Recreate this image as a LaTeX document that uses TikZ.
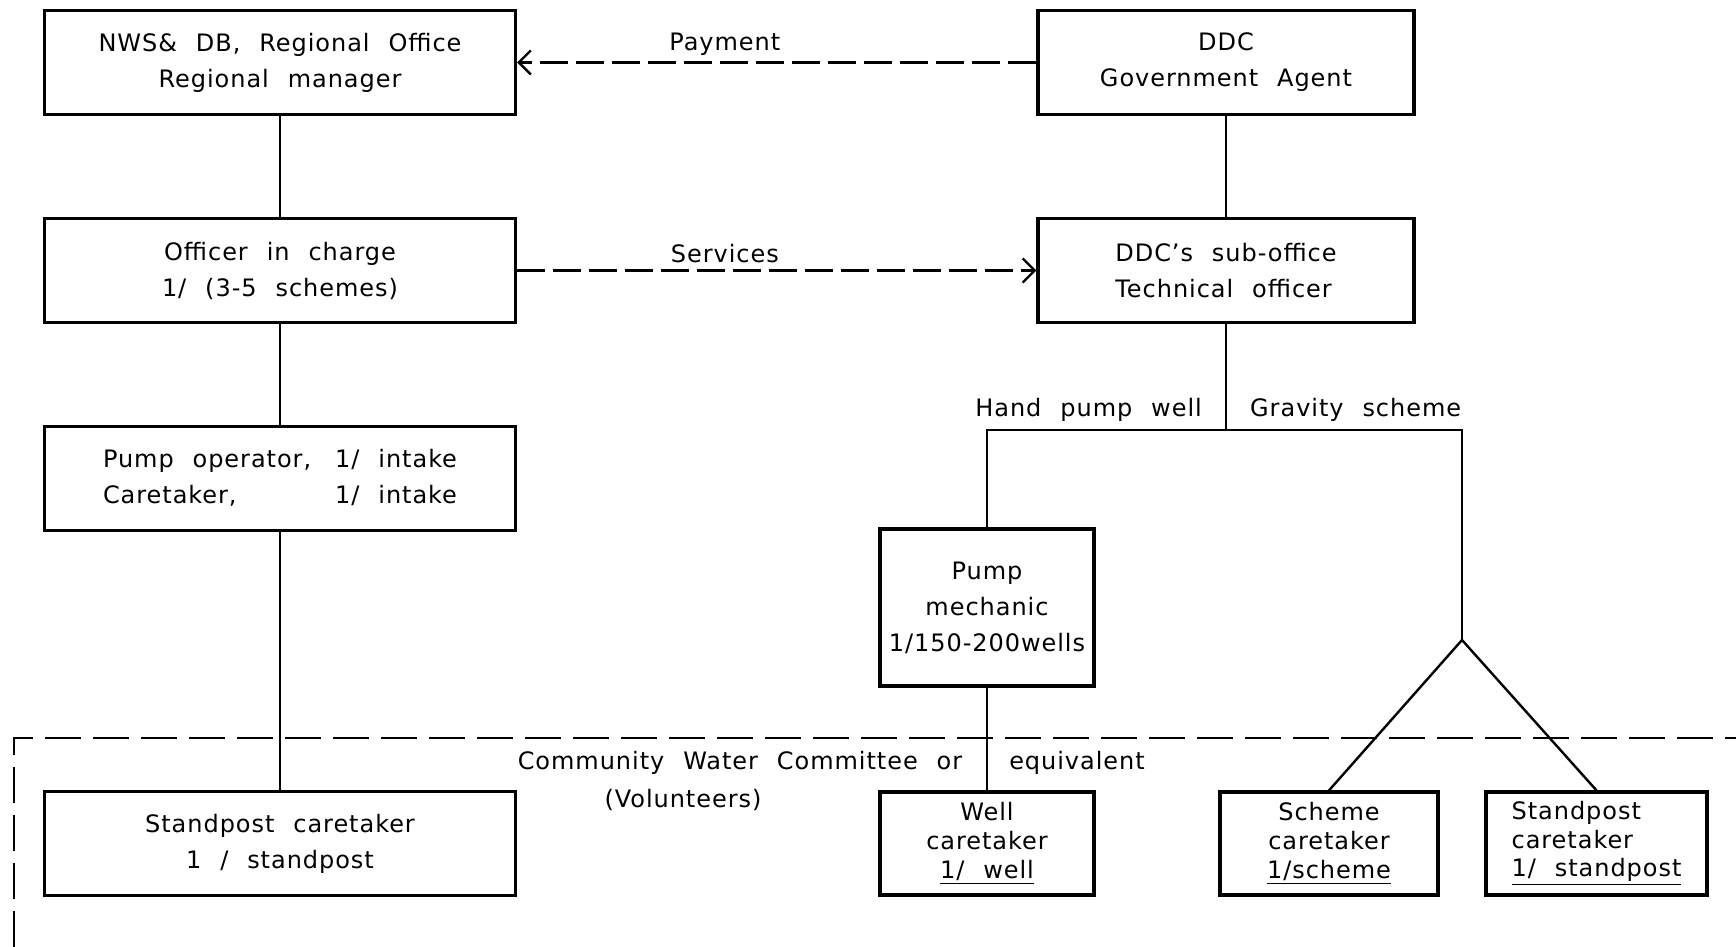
\documentclass[tikz,border=0pt]{standalone}
\usepackage{fontspec}
\setmainfont{DejaVu Sans}[WordSpace=2.2,LetterSpace=4]
\usetikzlibrary{arrows.meta}

\begin{document}
\begin{tikzpicture}[x=0.5pt,y=-0.5pt,line width=1.2pt,
   every node/.style={font=\fontsize{12}{18}\selectfont},
   box/.style={draw,line width=1.6pt,inner sep=2pt,align=center},
   bigbox/.style={box,minimum width=235.5pt,minimum height=52pt},
   midbox/.style={box,minimum width=188pt,minimum height=52pt},
   smallbox/.style={box,minimum height=51.5pt,font=\fontsize{12}{14.3}\selectfont},
   flow/.style={dash pattern=on 14pt off 4pt,-{Straight Barb[length=6pt,width=12pt]}},
   lbl/.style={inner sep=1pt}]
\useasboundingbox (0,0) rectangle (1736,947);
\node[bigbox] (nws) at (280,62.5) {NWS\& DB, Regional Office\\Regional manager};
\node[midbox] (ddc) at (1226,62.5) {DDC\\Government Agent};
\node[bigbox] (oic) at (280,270.5) {Officer in charge\\1/ (3-5 schemes)};
\node[midbox,align=left] (sub) at (1226,270.5) {DDC's sub-office\\Technical officer};
\node[bigbox] (pop) at (280,478.5) {\begin{tabular}{@{}l@{\quad}l@{}}Pump operator, & 1/ intake\\Caretaker, & 1/ intake\end{tabular}};
\node[bigbox] (spc) at (280,843.5) {Standpost caretaker\\1 / standpost};
\node[box,minimum width=107pt,minimum height=78.5pt] (mech) at (987,607.5) {Pump\\mechanic\\1/150-200wells};
\node[smallbox,minimum width=107pt] (wcare) at (987,843.5) {Well\\caretaker\\\underline{1/ well}};
\node[smallbox,minimum width=109pt] (scare) at (1329,843.5) {Scheme\\caretaker\\\underline{1/scheme}};
\node[smallbox,minimum width=110.5pt,align=left] (spost) at (1596.5,843.5) {Standpost\\caretaker\\\underline{1/ standpost}};
\coordinate (fork) at (1226,430);
\coordinate (hp) at (987,430);
\coordinate (gv) at (1462,430);
\coordinate (apex) at (1462,640);
\coordinate (ct) at (14,738);
\coordinate (cb) at (14,947);
\coordinate (cr) at (1736,738);
\draw (nws) -- (oic);
\draw (oic) -- (pop);
\draw (pop) -- (spc);
\draw (ddc) -- (sub);
\draw (sub) -- (fork);
\draw (mech) -- (hp) -- (gv) -- (apex);
\draw (mech) -- (wcare);
\draw (scare.north) -- (apex) -- (spost.north);
\draw[dash pattern=on 18pt off 6pt] (cb) -- (ct) -- (cr);
\draw[flow] (ddc) -- node[lbl,above=2pt,pos=0.6] (pay) {Payment} (nws);
\draw[flow] (oic) -- node[lbl,above=2pt,pos=0.4] (serv) {Services} (sub);
\node[lbl,anchor=east] (hpw) at (1205,410) {Hand pump well};
\node[lbl,anchor=west] (gvs) at (1247,410) {Gravity scheme};
\node[lbl] (cwc) at (740,763) {Community Water Committee or};
\node[lbl] (eqv) at (1077,763) {equivalent};
\node[lbl] (vol) at (683,800) {(Volunteers)};
\end{tikzpicture}
\end{document}
